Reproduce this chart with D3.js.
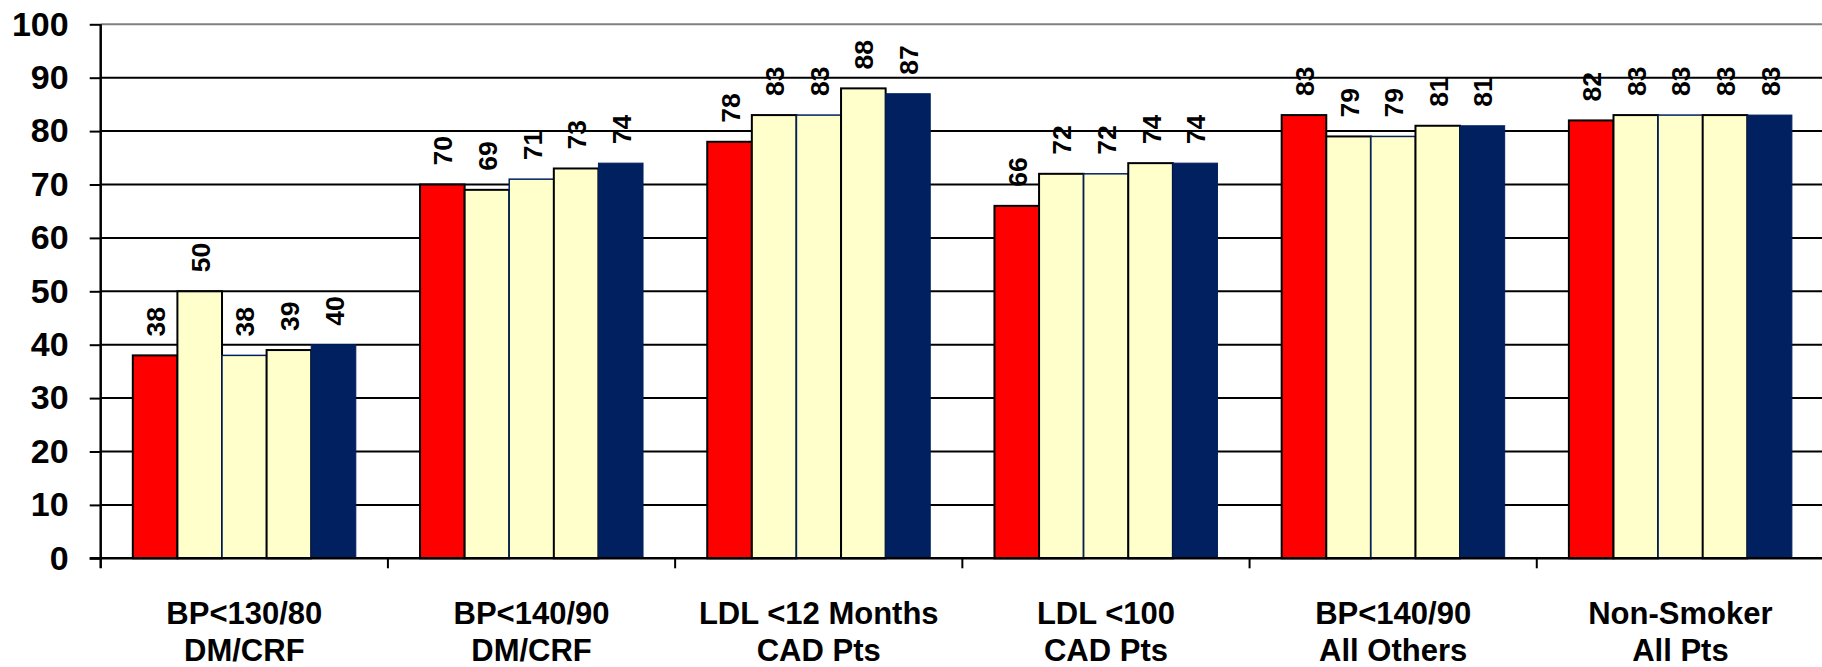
<!DOCTYPE html>
<html>
<head>
<meta charset="utf-8">
<script src="https://cdn.jsdelivr.net/npm/d3@7/dist/d3.min.js"></script>
<style>
  html, body { margin: 0; padding: 0; background: #fff; }
  svg { display: block; font-family: "Liberation Sans", Arial, sans-serif; font-weight: bold; }
</style>
</head>
<body>
<svg id="chart" width="1822" height="667"></svg>
<script>
const categories = [
  ["BP<130/80", "DM/CRF"],
  ["BP<140/90", "DM/CRF"],
  ["LDL <12 Months", "CAD Pts"],
  ["LDL <100", "CAD Pts"],
  ["BP<140/90", "All Others"],
  ["Non-Smoker", "All Pts"]
];
const seriesNames = ["S1", "S2", "S3", "S4", "S5"];
const s1 = [38, 70, 78, 66, 83, 82];
const s2 = [50, 69, 83, 72, 79, 83];
const s3 = [38, 71, 83, 72, 79, 83];
const s4 = [39, 73, 88, 74, 81, 83];
const s5 = [40, 74, 87, 74, 81, 83];
const seriesValues = [s1, s2, s3, s4, s5];
const yTicks = [0, 10, 20, 30, 40, 50, 60, 70, 80, 90, 100];

const fills = ["#FF0000", "#FFFFCC", "#FFFFCC", "#FFFFCC", "#002060"];
const strokes = ["#000000", "#000000", "#002060", "#000000", "#002060"];
const strokeW = [2, 2, 1.5, 2, 1];

const svg = d3.select("#chart");
const mLeft = 100.7, mRight = 1824, mTop = 24.3, mBottom = 558.3;

const x0 = d3.scaleBand().domain(d3.range(categories.length)).range([mLeft, mRight]).padding(0);
const x1 = d3.scaleBand().domain(seriesNames).range([0, x0.bandwidth()]).paddingInner(0).paddingOuter(0.72);
const y = d3.scaleLinear().domain([0, 100]).range([mBottom, mTop]);

// gridlines
svg.append("g").selectAll("line").data(yTicks.filter(d => d > 0)).join("line")
  .attr("x1", mLeft).attr("x2", mRight)
  .attr("y1", d => y(d)).attr("y2", d => y(d))
  .attr("stroke", d => d === 100 ? "#808080" : "#000")
  .attr("stroke-width", 2);

// bars
const groups = svg.append("g").selectAll("g").data(categories).join("g")
  .attr("transform", (d, i) => `translate(${x0(i)},0)`);

groups.each(function(cat, ci) {
  const g = d3.select(this);
  seriesNames.forEach((s, si) => {
    const v = seriesValues[si][ci];
    g.append("rect")
      .attr("x", x1(s)).attr("width", x1.bandwidth())
      .attr("y", y(v)).attr("height", y(0) - y(v))
      .attr("fill", fills[si])
      .attr("stroke", strokes[si])
      .attr("stroke-width", strokeW[si]);
  });
  seriesNames.forEach((s, si) => {
    const v = seriesValues[si][ci];
    const cx = x1(s) + x1.bandwidth() / 2 + 1;
    const cy = y(v) - 19;
    g.append("text")
      .attr("transform", `translate(${cx},${cy}) rotate(-90)`)
      .attr("text-anchor", "start")
      .attr("dominant-baseline", "central")
      .attr("font-size", 26.5)
      .attr("fill", "#000")
      .text(v);
  });
});

// y axis
const yAxis = d3.axisLeft(y).tickValues(yTicks).tickSize(11).tickPadding(21);
const yg = svg.append("g").attr("transform", `translate(${mLeft},0)`).call(yAxis);
yg.select(".domain").attr("stroke", "#000").attr("stroke-width", 2.5)
  .attr("d", `M0,${mTop}V${mBottom + 10}`);
yg.selectAll(".tick line").attr("stroke", "#000").attr("stroke-width", 2);
yg.selectAll(".tick text").attr("font-size", 34).attr("font-weight", "bold")
  .attr("font-family", "'Liberation Sans', Arial, sans-serif").attr("fill", "#000");

// x axis line
svg.append("line").attr("x1", mLeft - 11).attr("x2", mRight)
  .attr("y1", mBottom).attr("y2", mBottom).attr("stroke", "#000").attr("stroke-width", 2.5);

// category boundary ticks
svg.append("g").selectAll("line").data(d3.range(1, categories.length)).join("line")
  .attr("x1", i => x0(i)).attr("x2", i => x0(i))
  .attr("y1", mBottom).attr("y2", mBottom + 10)
  .attr("stroke", "#000").attr("stroke-width", 2);

// category labels
const lab = svg.append("g").selectAll("text").data(categories).join("text")
  .attr("text-anchor", "middle")
  .attr("font-size", 31)
  .attr("fill", "#000");
lab.each(function(d, i) {
  const t = d3.select(this);
  const cx = x0(i) + x0.bandwidth() / 2;
  t.append("tspan").attr("x", cx).attr("y", 624).text(d[0]);
  t.append("tspan").attr("x", cx).attr("y", 661).text(d[1]);
});
</script>
</body>
</html>
